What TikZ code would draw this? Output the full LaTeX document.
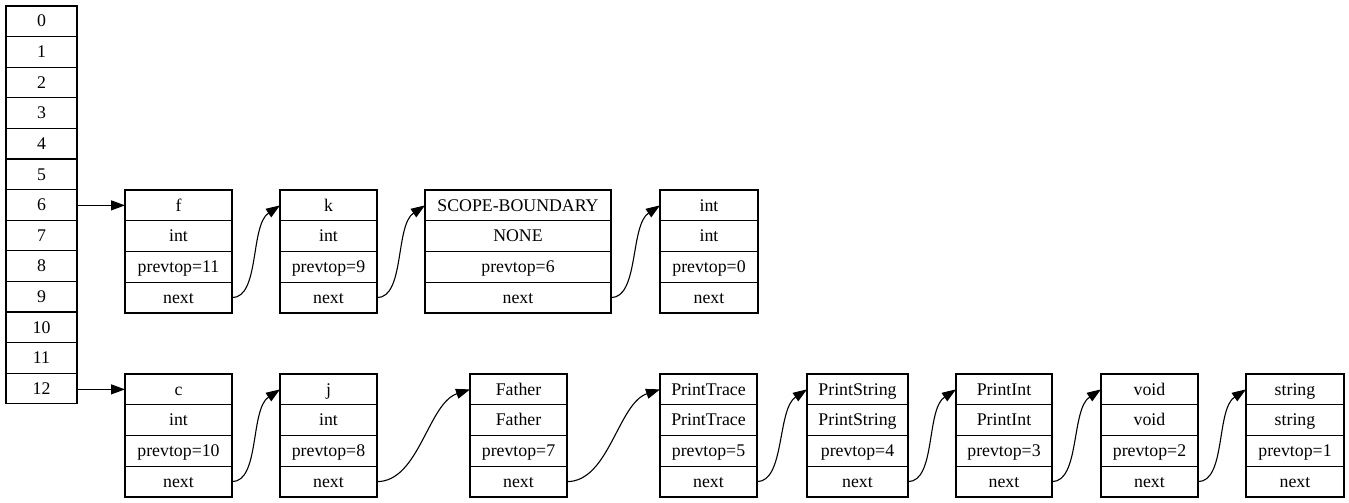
\documentclass[tikz,border=0pt]{standalone}
\usepackage{fontspec}
\setmainfont{Liberation Serif}
\usetikzlibrary{arrows.meta}

\tikzset{
  cellbase/.style={draw=black, line width=1.1pt, inner sep=0pt, outer sep=0pt,
    text height=14.4pt, text depth=3pt,
    font=\fontsize{17.8}{20}\selectfont},
  acell/.style={cellbase, minimum width=71pt, minimum height=30.6pt},
  rcell/.style={cellbase, minimum height=30.75pt},
  link/.style={line width=1.1pt, -{Triangle[length=14pt,width=10pt]}},
}

% one symbol-table entry: name, left, top, width, then the four fields
\newcommand\symrec[8]{%
  \node[rcell, minimum width=#4pt, anchor=north west] (#1-1) at (#2,#3) {#5};
  \node[rcell, minimum width=#4pt, anchor=north] (#1-2) at (#1-1.south) {#6};
  \node[rcell, minimum width=#4pt, anchor=north] (#1-3) at (#1-2.south) {#7};
  \node[rcell, minimum width=#4pt, anchor=north] (#1-4) at (#1-3.south) {#8};
}

\begin{document}
\begin{tikzpicture}[x=1pt, y=-1pt]
  \fill[white] (0,0) rectangle (1349,503);
  \useasboundingbox (0,0) rectangle (1349,503);

  % bucket array
  \foreach \i in {0,...,12} {
    \node[acell] (a\i) at (41.5, {21.3+30.6*\i}) {\i};
  }

  % chain from bucket 6
  \symrec{f}{125}{190}{107}{f}{int}{prevtop=11}{next}
  \symrec{k}{280}{190}{97}{k}{int}{prevtop=9}{next}
  \symrec{sb}{425}{190}{186}{SCOPE-BOUNDARY}{NONE}{prevtop=6}{next}
  \symrec{ti}{660}{190}{98}{int}{int}{prevtop=0}{next}

  % chain from bucket 12
  \symrec{c}{125}{374}{107}{c}{int}{prevtop=10}{next}
  \symrec{j}{280}{374}{97}{j}{int}{prevtop=8}{next}
  \symrec{fa}{470}{374}{97}{Father}{Father}{prevtop=7}{next}
  \symrec{pt}{660}{374}{97}{PrintTrace}{PrintTrace}{prevtop=5}{next}
  \symrec{ps}{807}{374}{101}{PrintString}{PrintString}{prevtop=4}{next}
  \symrec{pi}{956}{374}{96}{PrintInt}{PrintInt}{prevtop=3}{next}
  \symrec{vo}{1101}{374}{97}{void}{void}{prevtop=2}{next}
  \symrec{st}{1246}{374}{98}{string}{string}{prevtop=1}{next}

  % bucket heads
  \draw[link] (a6.east |- f-1.west) -- (f-1.west);
  \draw[link] (a12.east |- c-1.west) -- (c-1.west);

  % next pointers
  \foreach \s/\t in {f/k, k/sb, sb/ti, c/j, pt/ps, ps/pi, pi/vo, vo/st} {
    \draw[link] (\s-4.east) .. controls +(28,0) and +(-30,20) .. (\t-1.west);
  }
  \foreach \s/\t in {j/fa, fa/pt} {
    \draw[link] (\s-4.east) .. controls +(42,0) and +(-42,14) .. (\t-1.west);
  }
\end{tikzpicture}
\end{document}
